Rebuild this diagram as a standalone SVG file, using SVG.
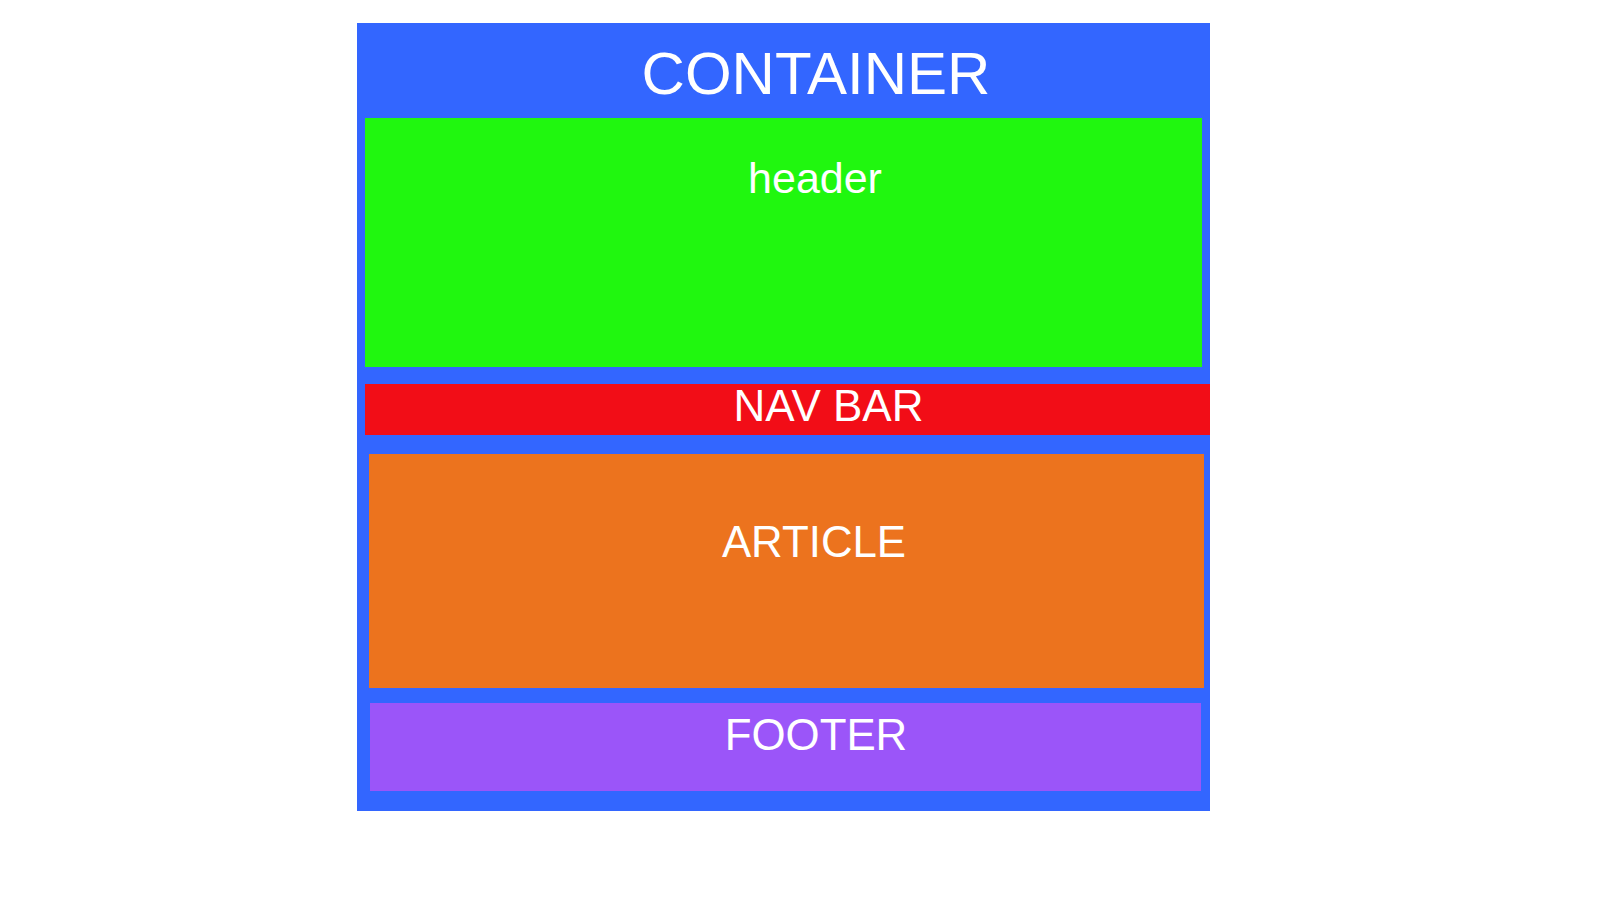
<svg xmlns="http://www.w3.org/2000/svg" width="1600" height="900" viewBox="0 0 1600 900">
<style>
text{font-family:"Liberation Sans",Arial,sans-serif;fill:#fff;text-anchor:middle}
</style>
<rect width="1600" height="900" fill="#fff"/>
<g id="container">
<rect x="357" y="23" width="853" height="788" fill="#3366FF"/>
<text x="816" y="94" font-size="60">CONTAINER</text>
</g>
<g id="header">
<rect x="365" y="118" width="837" height="249" fill="#20F70F"/>
<text x="815" y="192.5" font-size="43">header</text>
</g>
<g id="navbar">
<rect x="365" y="384" width="845" height="51" fill="#F20D17"/>
<text x="828.5" y="420.5" font-size="44">NAV BAR</text>
</g>
<g id="article">
<rect x="369" y="454" width="835" height="234" fill="#EC731E"/>
<text x="814" y="557.3" font-size="43.8">ARTICLE</text>
</g>
<g id="footer">
<rect x="370" y="703" width="831" height="88" fill="#9B55F9"/>
<text x="816" y="750" font-size="43.8">FOOTER</text>
</g>
<g id="connectors"/>
</svg>
